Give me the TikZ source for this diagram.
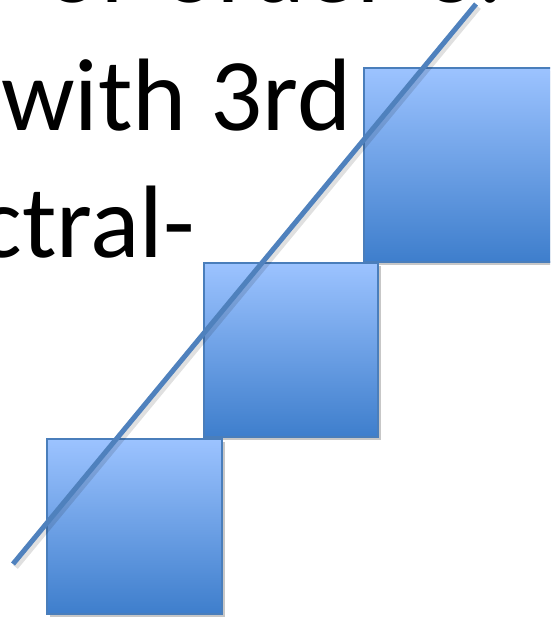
\documentclass[tikz,border=0pt]{standalone}
\usepackage{fontspec}
\setmainfont{Carlito}
\usetikzlibrary{shadows}
\definecolor{boxtop}{HTML}{9CC3FF}
\definecolor{boxmid}{HTML}{80ABEE}
\definecolor{boxbot}{HTML}{3E7ECC}
\definecolor{boxborder}{HTML}{4A7EBB}
\definecolor{lncol}{HTML}{4F81BD}
\tikzset{
  bigtext/.style={inner sep=0pt, anchor=base west, font=\fontsize{103}{126}\selectfont},
  bluebox/.style={draw=boxborder, line width=1.3pt, top color=boxtop, middle color=boxmid,
    bottom color=boxbot, inner sep=0pt, outer sep=0pt, anchor=north west,
    drop shadow={shadow xshift=2.5pt, shadow yshift=-3pt, opacity=0.22, fill=black}},
  diagline/.style={draw=lncol, line width=5pt},
  diagshadow/.style={draw=black, line width=6pt, opacity=0.12}
}
\begin{document}
\begin{tikzpicture}[x=1pt,y=-1pt]
\useasboundingbox (0,0) rectangle (550,620);
\clip (0,0) rectangle (550,620);
% text
\node[bigtext] (t1) at (45,3) {of\hspace{32pt}order\hspace{32pt}3.};
\node[bigtext] (t2) at (1,131) {with 3rd};
\node[bigtext, anchor=base east] (t3) at (195,257) {ctral-};
% boxes
\node[bluebox, minimum width=215, minimum height=194] (b3) at (364,68) {};
\node[bluebox, minimum width=174, minimum height=174] (b2) at (204,263) {};
\node[bluebox, minimum width=175, minimum height=175] (b1) at (47,439) {};
% diagonal line
\coordinate (p1) at (13,564);
\coordinate (p2) at (476,4);
\coordinate (s1) at (15.5,567);
\coordinate (s2) at (478.5,7);
\draw[diagshadow] (s1) -- (s2);
\draw[diagline] (p1) -- (p2);
\end{tikzpicture}
\end{document}
